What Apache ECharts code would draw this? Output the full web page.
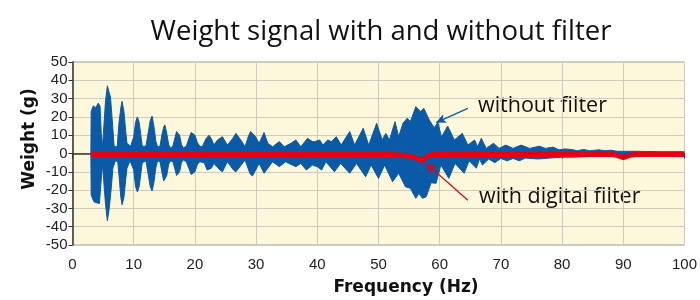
<!DOCTYPE html>
<html><head><meta charset="utf-8">
<script src="https://cdn.jsdelivr.net/npm/echarts@6/dist/echarts.min.js"></script>
<style>html,body{margin:0;padding:0;background:#fff}#c{width:700px;height:300px}</style>
</head><body><div id="c"></div>
<script>
// ---- data (Hz, g) ----
const titleText = 'Weight signal with and without filter';
const xName = 'Frequency (Hz)';
const yName = 'Weight (g)';
const labelWithout = 'without filter';
const labelWith = 'with digital filter';

// upper envelope of the unfiltered signal
const blueUpper = [[3.0,0],[3.05,23],[3.4,26],[3.8,25],[4.2,27.5],[4.5,26],[4.7,11],[4.9,3.5],[5.2,4],
[5.4,29],[5.7,37],[6.0,33],[6.2,31],[6.5,18],[6.8,4],[7.3,3.5],
[7.6,17],[7.9,25],[8.1,28.5],[8.4,23],[8.7,12],[8.9,5.5],[9.5,4],
[10.0,9],[10.3,17],[10.6,20],[10.9,17],[11.2,9],[11.4,4],[12.0,4],
[12.4,12],[12.7,18],[13.0,20.5],[13.3,15],[13.6,7],[13.9,3.5],[14.3,4],
[14.6,10],[14.9,14.5],[15.1,15.6],[15.4,11],[15.7,5],[16.0,3],[16.4,4],
[16.7,8],[17.0,12],[17.2,13],[17.5,10],[17.8,5],[18.1,3],[18.6,4],
[19.0,8],[19.4,11.5],[19.7,12.5],[20.0,10],[20.4,6],[20.8,4],[21.2,3.7],
[21.8,8],[22.3,10],[22.7,8],[23.1,4.6],[23.7,7.4],[24.5,9.2],[25.3,4.6],[26.2,8.3],[26.7,11],[27.5,7.4],[28.2,3.7],
[28.7,9],[29.1,12],[29.9,9.2],[30.5,5.6],[31.3,11.5],[31.9,5.6],[32.7,3.7],[33.8,6.5],[34.6,3.7],[35.7,5.6],
[36.5,7.4],[37.3,3.7],[38.4,8.3],[39.2,6.5],[39.6,6.5],[40.4,7.4],[40.9,4.6],[41.7,7.4],[42.3,6.5],
[43.1,9.2],[43.9,4.6],[45.3,12],[46.1,4.6],[47.5,13.8],[48.4,4.6],[49.7,16.5],[50.6,7.4],[51.2,11],
[51.8,7.4],[52.7,17.4],[53.3,9.2],[54.0,16.5],[54.7,19.3],[55.2,17.4],[56.1,25.6],[56.9,22.9],[57.4,24.7],
[58.3,18.3],[59.1,14],[59.7,17],[60.3,9],[61.3,15],[62.4,7.4],[63.7,11],[64.6,4.6],[65.7,7.4],[66.2,3.7],
[66.8,8.3],[67.6,2.8],[68.8,5.6],[69.7,2.8],[70.8,4.6],[72.0,2.8],[73.3,4.6],[74.7,2.8],[76.3,4],[77.3,2.8],
[78.5,3.5],[79.5,2],[80.5,2.5],[81.5,2.2],[82.5,1.5],[83.5,2.2],[84.5,1.5],[86.0,2],[87.0,1.5],[88.0,1.8],
[89.0,1.2],[92.0,1.2],[96.0,1],[100,1]];

// lower envelope of the unfiltered signal
const blueLower = [[3.0,0],[3.05,-22.7],[3.5,-26.4],[4.0,-27],[4.4,-27.3],[4.6,-18],[4.9,-6],[5.2,-5],
[5.4,-28],[5.7,-36.8],[6.0,-30],[6.3,-20],[6.6,-8],[7.0,-4],[7.4,-4.5],
[7.7,-16],[7.9,-24],[8.1,-28],[8.4,-24],[8.7,-14],[8.9,-8],[9.4,-4],
[10.0,-9],[10.3,-18],[10.6,-21],[10.9,-18],[11.2,-10],[11.4,-5],[12.0,-4],
[12.4,-12],[12.7,-18],[13.0,-20.5],[13.3,-16],[13.6,-8],[13.9,-4],[14.3,-4.5],
[14.6,-10],[14.9,-15],[15.1,-16],[15.4,-12],[15.7,-6],[16.0,-4],[16.4,-4.5],
[16.7,-8],[17.0,-12],[17.2,-12.7],[17.5,-10],[17.8,-5],[18.1,-3.5],[18.6,-4.5],
[19.0,-8],[19.4,-11.5],[19.7,-12.3],[20.0,-10],[20.4,-6],[20.8,-4.5],[21.5,-5],
[22.0,-9],[22.3,-10],[22.7,-8],[23.1,-5.4],[24.1,-9],[24.5,-10],[25.3,-4.5],[26.3,-9],[26.7,-10],[28.2,-3.6],
[29.0,-11],[29.4,-12.3],[30.5,-5.4],
[31.3,-10.8],[32.7,-4.5],[33.8,-7.2],[34.8,-4.5],[36.5,-7.2],[37.3,-5.4],[38.2,-9],[39.2,-6.3],
[40.0,-7.2],[40.7,-9],[41.4,-4.5],[42.8,-10],[43.8,-5.4],[45.3,-10.8],[46.4,-5.4],[47.9,-12.7],
[48.8,-6.3],[50.0,-13.6],[51.0,-6.3],[52.3,-15.4],[53.3,-10.8],[54.4,-18.2],[55.2,-19],[56.1,-24.5],
[56.6,-21.8],[57.2,-24.5],[57.8,-23.6],[58.6,-16],[59.4,-16.3],[60.2,-6.3],[61.5,-13.6],[62.5,-5.4],
[64.0,-10.8],[64.8,-4],[66.0,-8],[66.5,-3],[67.0,-6.3],[68.0,-3],[69.0,-5],[70.0,-2.7],[71.0,-4],
[72.0,-2.7],[73.0,-4],[74.0,-2.5],[76.0,-3],[78.0,-2.5],[80.0,-2],[82.0,-2],[85.0,-1.5],[90.0,-1.5],[100,-1]];

// filtered signal
const redLine = [[3,-0.5],[52,-0.5],[54,-1],[55.5,-1.8],[56.5,-2.8],[57.1,-4],[57.6,-2.5],[58.3,-1],
[59,-0.5],[88,-0.5],[89,-1],[90,-2.2],[91,-1],[92,-0.5],[100,-0.5]];

// annotation arrows (from label to curve), in data units
const arrowWithout = [[64.6,24.7],[59.4,16.9]];
const arrowWith = [[64.6,-25.5],[57.8,-5.4]];

const xTicks = {min:0, max:100, interval:10};
const yTicks = {min:-50, max:50, interval:10};

const BLUE = '#0a5aa8', RED = '#e60012';
const chart = echarts.init(document.getElementById('c'), null, {renderer:'canvas'});
const axisFont = {fontFamily:'Liberation Sans', fontSize:15, color:'#222'};
chart.setOption({
  animation:false,
  title:{text:titleText, left:376, textAlign:'center', top:13,
    textStyle:{fontFamily:'Open Sans', fontWeight:'normal', fontSize:27.5, color:'#111'}},
  grid:{left:72.5, right:14, top:62, bottom:55, show:true, backgroundColor:'#fdf8dc', borderColor:'#9a9a9a', borderWidth:1},
  xAxis:{type:'value', min:xTicks.min, max:xTicks.max, interval:xTicks.interval,
    axisLine:{lineStyle:{color:'#333', width:1.5}}, axisTick:{length:5, lineStyle:{color:'#333'}},
    axisLabel:Object.assign({margin:12}, axisFont),
    splitLine:{lineStyle:{color:'#cfcbbd', width:1}}},
  yAxis:{type:'value', min:yTicks.min, max:yTicks.max, interval:yTicks.interval,
    axisLine:{show:true, lineStyle:{color:'#333', width:1.5}}, axisTick:{show:true, length:4, lineStyle:{color:'#333'}},
    axisLabel:Object.assign({margin:5}, axisFont),
    splitLine:{lineStyle:{color:'#cfcbbd', width:1}}},
  graphic:[
    {type:'text', rotation:Math.PI/2, position:[30,139],
      style:{text:yName, x:0, y:0, fontFamily:'DejaVu Sans', fontWeight:'bold', fontSize:17, fill:'#111', textAlign:'center', textVerticalAlign:'middle'}},
    {type:'text', position:[406,288],
      style:{text:xName, x:0, y:0, fontFamily:'DejaVu Sans', fontWeight:'bold', fontSize:17, fill:'#111', textAlign:'center', textVerticalAlign:'middle'}},
    {type:'text', position:[478,106], style:{text:labelWithout, fontFamily:'Open Sans', fontWeight:'normal', fontSize:21.5, fill:'#111', textVerticalAlign:'middle'}},
    {type:'text', position:[479,197], style:{text:labelWith, fontFamily:'Open Sans', fontWeight:'normal', fontSize:21.5, fill:'#111', textVerticalAlign:'middle'}}
  ],
  series:[
    {type:'line', data:blueUpper, showSymbol:false, symbol:'none', lineStyle:{color:BLUE, width:1}, areaStyle:{color:BLUE, opacity:1}, z:2},
    {type:'line', data:blueLower, showSymbol:false, symbol:'none', lineStyle:{color:BLUE, width:1}, areaStyle:{color:BLUE, opacity:1}, z:2},
    {type:'line', data:redLine, showSymbol:false, symbol:'none', lineStyle:{color:RED, width:5}, z:3,
      markLine:{silent:true, symbol:['none','arrow'], symbolSize:[7,10], label:{show:false},
        data:[
          [{coord:arrowWithout[0], lineStyle:{color:BLUE, width:1.3, type:'solid'}}, {coord:arrowWithout[1]}],
          [{coord:arrowWith[0], lineStyle:{color:RED, width:1.3, type:'solid'}}, {coord:arrowWith[1]}]
        ]}}
  ]
});
</script></body></html>
